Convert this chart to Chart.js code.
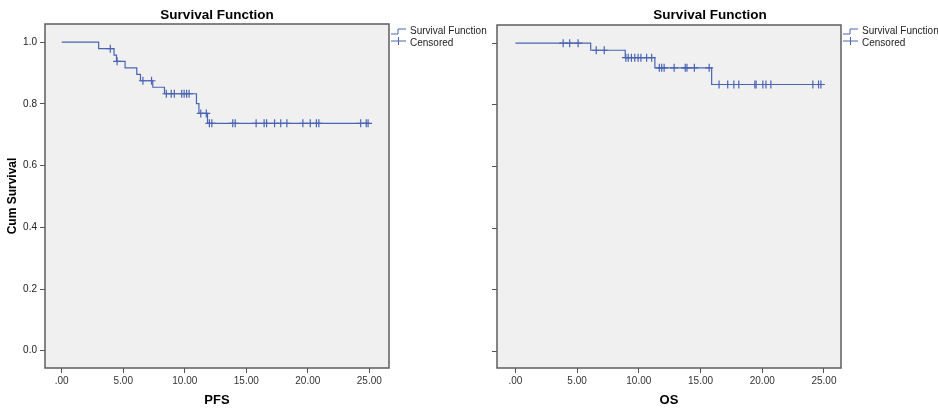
<!DOCTYPE html>
<html>
<head>
<meta charset="utf-8">
<script src="https://cdn.jsdelivr.net/npm/chart.js@4.4.1/dist/chart.umd.min.js"></script>
<style>
  html, body { margin: 0; padding: 0; background: #ffffff; }
  #wrap { position: relative; width: 938px; height: 415px; overflow: hidden; }
  canvas { position: absolute; top: 0; }
</style>
</head>
<body>
<div id="wrap">
  <canvas id="pfs" width="490" height="415" style="left:0px"></canvas>
  <canvas id="os" width="448" height="415" style="left:490px"></canvas>
</div>
<script>
// ---------------- data ----------------
const chartTitle = 'Survival Function';
const legendLabels = ['Survival Function', 'Censored'];
const yAxisTitle = 'Cum Survival';

const xTicks = [0, 5, 10, 15, 20, 25];
const xTickLabels = ['.00', '5.00', '10.00', '15.00', '20.00', '25.00'];
const yTicks = [0, 0.2, 0.4, 0.6, 0.8, 1.0];
const yTickLabels = ['0.0', '0.2', '0.4', '0.6', '0.8', '1.0'];

// PFS: step times and survival after each step
const pfsTimes = [0, 3.0, 4.25, 4.45, 5.15, 6.1, 6.4, 7.4, 8.35, 10.95, 11.15, 11.85, 24.9];
const pfsSurv  = [1.0, 0.979, 0.958, 0.938, 0.917, 0.896, 0.875, 0.854, 0.833, 0.801, 0.769, 0.737, 0.737];
const pfsCensored = [3.95, 4.5, 6.6, 7.3, 8.5, 8.9, 9.15, 9.75, 9.95, 10.15, 10.35, 11.3, 11.75,
  12.0, 12.2, 13.9, 14.1, 15.8, 16.45, 16.65, 17.3, 17.8, 18.3, 19.6, 20.2, 20.7, 20.9, 24.3, 24.75, 24.9];

// OS
const osTimes = [0, 6.1, 8.9, 11.3, 15.9, 24.75];
const osSurv  = [1.0, 0.977, 0.953, 0.92, 0.866, 0.866];
const osCensored = [3.87, 4.4, 5.08, 6.55, 7.2, 8.95, 9.14, 9.4, 9.67, 9.94, 10.17, 10.63, 11.04,
  11.66, 11.85, 12.05, 12.86, 13.76, 13.9, 14.5, 15.7, 16.5, 17.2, 17.7, 18.1, 19.4, 19.5,
  20.05, 20.3, 20.7, 24.1, 24.56, 24.75];

// ---------------- helpers ----------------
const FONT = "Arial, 'Liberation Sans', Helvetica, sans-serif";
const LINE_COLOR = '#4a64b4';
Chart.defaults.font.family = FONT;

function survivalAt(times, surv, t) {
  let s = surv[0];
  for (let i = 0; i < times.length; i++) { if (times[i] <= t) s = surv[i]; }
  return s;
}

function framePlugin(opts) {
  return {
    id: 'frame_' + opts.id,
    beforeDraw(chart) {
      const a = chart.chartArea, ctx = chart.ctx;
      ctx.save();
      ctx.fillStyle = '#f0f0f0';
      ctx.fillRect(a.left, a.top, a.right - a.left, a.bottom - a.top);
      ctx.restore();
    },
    afterDraw(chart) {
      const a = chart.chartArea, ctx = chart.ctx;
      ctx.save();
      ctx.strokeStyle = '#5e5e5e';
      ctx.lineWidth = 1.5;
      ctx.strokeRect(a.left, a.top, a.right - a.left, a.bottom - a.top);
      // title
      ctx.fillStyle = '#000';
      ctx.font = 'bold 13.5px ' + FONT;
      ctx.textAlign = 'center';
      ctx.textBaseline = 'middle';
      ctx.fillText(chartTitle, opts.titleX, 15);
      // legend
      const x0 = a.right + 2;
      ctx.strokeStyle = LINE_COLOR;
      ctx.lineWidth = 1;
      ctx.beginPath();
      ctx.moveTo(x0, 34); ctx.lineTo(x0 + 7, 34); ctx.lineTo(x0 + 7, 29); ctx.lineTo(x0 + 15, 29);
      ctx.stroke();
      ctx.beginPath();
      ctx.moveTo(x0, 41); ctx.lineTo(x0 + 15, 41);
      ctx.moveTo(x0 + 7.5, 37); ctx.lineTo(x0 + 7.5, 45);
      ctx.stroke();
      ctx.fillStyle = '#222';
      ctx.font = '10px ' + FONT;
      ctx.textAlign = 'left';
      ctx.fillText(legendLabels[0], x0 + 19, 31.5);
      ctx.fillText(legendLabels[1], x0 + 19, 43.5);
      ctx.restore();
    }
  };
}

function makeChart(id, cfg) {
  const lineData = cfg.times.map((t, i) => ({ x: t, y: cfg.surv[i] }));
  const censData = cfg.censored.map(t => ({ x: t, y: survivalAt(cfg.times, cfg.surv, t) }));
  return new Chart(document.getElementById(id), {
    type: 'scatter',
    data: {
      datasets: [
        { label: legendLabels[0], data: lineData, showLine: true, stepped: 'before',
          borderColor: LINE_COLOR, borderWidth: 1.2, pointRadius: 0, fill: false },
        { label: legendLabels[1], data: censData, showLine: false, pointStyle: 'cross',
          pointRadius: 4, borderColor: LINE_COLOR, backgroundColor: LINE_COLOR, pointBorderWidth: 1.2 }
      ]
    },
    options: {
      responsive: false,
      animation: false,
      devicePixelRatio: 1,
      layout: { padding: { left: 0, right: cfg.padRight, top: cfg.padTop, bottom: 0 } },
      plugins: { legend: { display: false }, tooltip: { enabled: false }, title: { display: false } },
      scales: {
        x: {
          type: 'linear', min: cfg.xMin, max: cfg.xMax,
          afterBuildTicks: s => { s.ticks = xTicks.map(v => ({ value: v })); },
          afterFit: s => { s.height = 415 - cfg.bottom; },
          ticks: { callback: (v, i) => xTickLabels[i], font: { size: 10 }, color: '#333', padding: 2, maxRotation: 0 },
          grid: { drawOnChartArea: false, drawTicks: true, tickLength: 5, color: '#555' },
          border: { display: false },
          title: { display: true, text: cfg.xTitle, font: { size: 13, weight: 'bold' }, color: '#000',
                   padding: { top: 0, bottom: 7 } }
        },
        y: {
          type: 'linear', min: cfg.yMin, max: cfg.yMax,
          afterBuildTicks: s => { s.ticks = yTicks.map(v => ({ value: v })); },
          afterFit: s => { s.width = cfg.yWidth; },
          ticks: { callback: (v, i) => cfg.showYLabels ? yTickLabels[i] : '', font: { size: 10 }, color: '#222', padding: 3 },
          grid: { drawOnChartArea: false, drawTicks: true, tickLength: 5, color: '#555' },
          border: { display: false },
          title: { display: cfg.showYLabels, text: yAxisTitle, font: { size: 12, weight: 'bold' }, color: '#000',
                   padding: { top: 5, bottom: 0 } }
        }
      }
    },
    plugins: [framePlugin({ id: id, titleX: cfg.titleX })]
  });
}

makeChart('pfs', {
  times: pfsTimes, surv: pfsSurv, censored: pfsCensored, xTitle: 'PFS',
  xMin: -1.36, xMax: 26.6, yMin: -0.056, yMax: 1.059,
  padRight: 101, padTop: 24, bottom: 368, yWidth: 45, showYLabels: true, titleX: 217
});
makeChart('os', {
  times: osTimes, surv: osSurv, censored: osCensored, xTitle: 'OS',
  xMin: -1.49, xMax: 26.38, yMin: -0.054, yMax: 1.059,
  padRight: 97, padTop: 25, bottom: 368, yWidth: 7, showYLabels: false, titleX: 220
});
</script>
</body>
</html>
